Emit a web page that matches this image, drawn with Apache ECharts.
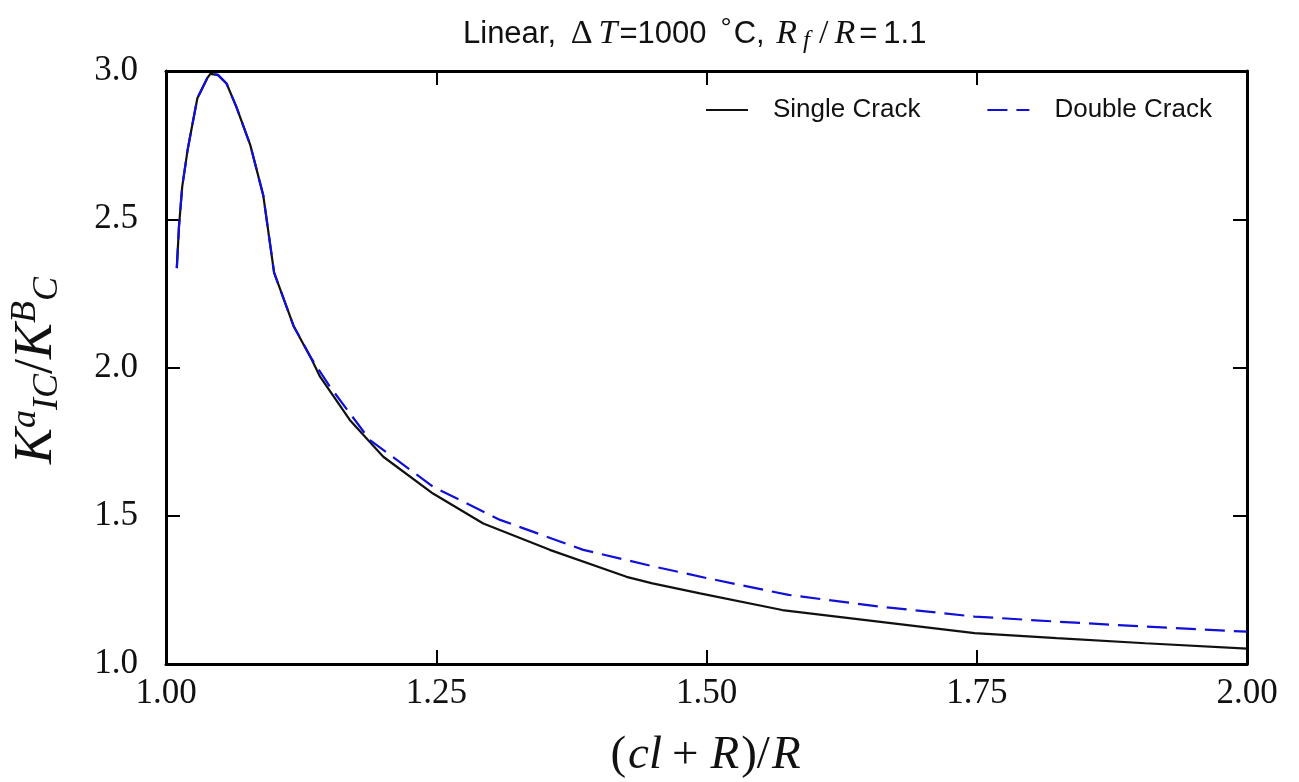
<!DOCTYPE html>
<html>
<head>
<meta charset="utf-8">
<script src="https://cdn.jsdelivr.net/npm/echarts@6/dist/echarts.min.js"></script>
<style>
  html, body { margin: 0; padding: 0; background: #fff; }
  #chart { width: 1299px; height: 782px; }
</style>
</head>
<body>
<div id="chart"></div>
<script>
// values
const singleX = [1.010, 1.012, 1.015, 1.020, 1.024, 1.029, 1.038, 1.041, 1.048, 1.056, 1.065, 1.078, 1.090, 1.100, 1.118, 1.135, 1.1425, 1.170, 1.201, 1.247, 1.2935, 1.355, 1.426, 1.450, 1.494, 1.570, 1.659, 1.748, 1.824, 1.906, 2.000];
const singleY = [2.335, 2.475, 2.610, 2.734, 2.812, 2.908, 2.975, 2.990, 2.987, 2.958, 2.880, 2.750, 2.580, 2.320, 2.140, 2.025, 1.969, 1.823, 1.699, 1.575, 1.474, 1.385, 1.294, 1.272, 1.238, 1.182, 1.143, 1.104, 1.087, 1.070, 1.052];

const doubleX = [1.010, 1.012, 1.015, 1.020, 1.024, 1.029, 1.038, 1.041, 1.048, 1.056, 1.065, 1.078, 1.090, 1.100, 1.118, 1.135, 1.1517, 1.1887, 1.247, 1.309, 1.386, 1.450, 1.500, 1.576, 1.659, 1.748, 1.824, 1.906, 2.000];
const doubleY = [2.335, 2.475, 2.610, 2.734, 2.812, 2.908, 2.975, 2.990, 2.987, 2.958, 2.880, 2.750, 2.580, 2.320, 2.140, 2.028, 1.935, 1.755, 1.598, 1.486, 1.385, 1.330, 1.290, 1.233, 1.194, 1.160, 1.143, 1.126, 1.109];

const seriesNames = ['Single Crack', 'Double Crack'];

const pairs = (xs, ys) => xs.map((x, i) => [x, ys[i]]);

const chart = echarts.init(document.getElementById('chart'));

const serif = 'Liberation Serif';
const sans = 'Liberation Sans';

const tickStyle = { show: true, inside: true, length: 14, lineStyle: { color: '#000', width: 2 } };
const frame = { show: true, lineStyle: { color: '#000', width: 3 } };

chart.setOption({
  backgroundColor: '#fff',
  animation: false,
  title: {
    text: '{s|Linear, }{m|Δ}{i|T}{s|=1000}{deg|°}{s|C, }{i|R}{sub|f}{m|/}{i|R}{eq|=}{s|1.1}',
    left: 458,
    top: 10,
    textStyle: {
      fontWeight: 'normal',
      rich: {
        s: { fontFamily: sans, fontSize: 31, fontWeight: 'normal', color: '#111' },
        eq: { fontFamily: sans, fontSize: 31, fontWeight: 'normal', color: '#111', padding: [0, 6, 0, 2] },
        deg: { fontFamily: sans, fontSize: 28, fontWeight: 'normal', color: '#111', verticalAlign: 'top', padding: [0, 2, 6, 14] },
        m: { fontFamily: serif, fontSize: 34, fontWeight: 'normal', color: '#111', padding: [0, 3, 0, 6] },
        i: { fontFamily: serif, fontStyle: 'italic', fontSize: 34, fontWeight: 'normal', color: '#111', padding: [0, 2, 0, 3] },
        sub: { fontFamily: serif, fontStyle: 'italic', fontSize: 25, fontWeight: 'normal', color: '#111', verticalAlign: 'bottom', padding: [14, 3, 0, 4] }
      }
    }
  },
  legend: {
    left: 700,
    top: 92,
    itemWidth: 42,
    itemHeight: 14,
    itemGap: 66,
    itemStyle: { opacity: 0 },
    textStyle: { fontFamily: sans, fontSize: 26, color: '#111', padding: [0, 0, 0, 20] },
    data: seriesNames
  },
  grid: { left: 166, right: 52, top: 71, bottom: 118, outerBoundsMode: 'none' },
  xAxis: [
    {
      type: 'value', min: 1, max: 2, interval: 0.25,
      name: '{p|(}{i|cl}{op|+}{i|R}{p|)/}{i|R}',
      nameLocation: 'middle', nameGap: 68,
      nameTextStyle: {
        rich: {
          p: { fontFamily: serif, fontSize: 47, color: '#111' },
          op: { fontFamily: serif, fontSize: 47, color: '#111', padding: [0, 10, 0, 8] },
          i: { fontFamily: serif, fontStyle: 'italic', fontSize: 47, color: '#111', padding: [0, 2, 0, 2] }
        }
      },
      axisLine: frame, axisTick: tickStyle, splitLine: { show: false },
      axisLabel: { fontFamily: serif, fontSize: 35, color: '#111', margin: 12, formatter: v => v.toFixed(2) }
    },
    {
      type: 'value', min: 1, max: 2, interval: 0.25, position: 'top',
      axisLine: frame, axisTick: tickStyle, splitLine: { show: false }, axisLabel: { show: false }
    }
  ],
  yAxis: [
    {
      type: 'value', min: 1, max: 3, interval: 0.5,
      name: '{i|K}{sup|a}{sub|IC}{p|/}{i|K}{sup|B}{sub|C}',
      nameLocation: 'middle', nameGap: 100, nameRotate: 90,
      nameTextStyle: {
        padding: [0, 6, 0, 0],
        rich: {
          p: { fontFamily: serif, fontSize: 54, color: '#111' },
          i: { fontFamily: serif, fontStyle: 'italic', fontSize: 54, color: '#111' },
          sup: { fontFamily: serif, fontStyle: 'italic', fontSize: 36, color: '#111', verticalAlign: 'top', padding: [0, 0, 22, 0] },
          sub: { fontFamily: serif, fontStyle: 'italic', fontSize: 36, color: '#111', verticalAlign: 'bottom', padding: [20, 0, 0, 0] }
        }
      },
      axisLine: frame, axisTick: tickStyle, splitLine: { show: false },
      axisLabel: { fontFamily: serif, fontSize: 35, color: '#111', margin: 28, formatter: v => v.toFixed(1) }
    },
    {
      type: 'value', min: 1, max: 3, interval: 0.5, position: 'right',
      axisLine: frame, axisTick: tickStyle, splitLine: { show: false }, axisLabel: { show: false }
    }
  ],
  series: [
    {
      name: seriesNames[0], type: 'line', showSymbol: false, symbol: 'none',
      lineStyle: { color: '#111', width: 2.2 }, itemStyle: { color: '#111' },
      data: pairs(singleX, singleY)
    },
    {
      name: seriesNames[1], type: 'line', showSymbol: false, symbol: 'none',
      lineStyle: { color: '#1010d8', width: 2.2, type: [20, 9] }, itemStyle: { color: '#1010d8' },
      data: pairs(doubleX, doubleY)
    }
  ]
});
</script>
</body>
</html>
